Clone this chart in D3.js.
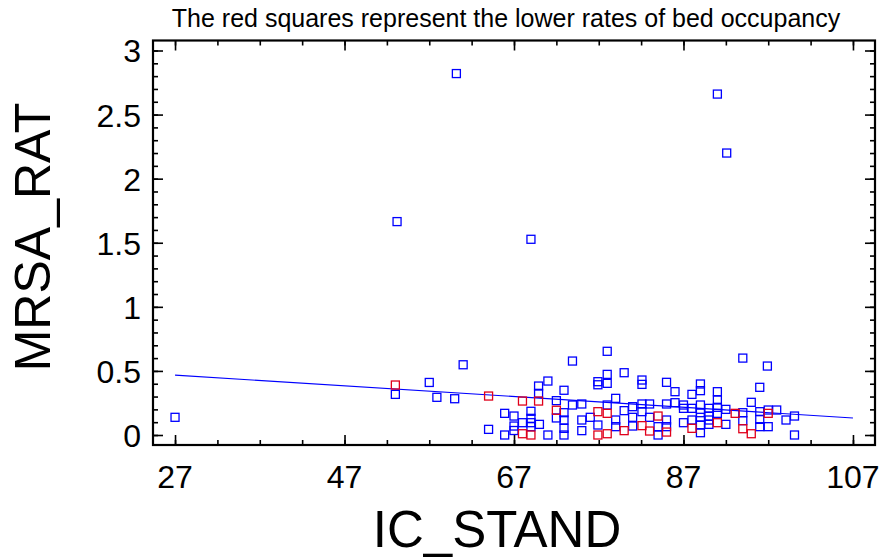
<!DOCTYPE html>
<html lang="en">
<head>
<meta charset="utf-8">
<title>MRSA_RAT vs IC_STAND</title>
<script src="https://d3js.org/d3.v7.min.js"></script>
<style>
  body { margin: 0; background: #fff; }
  svg text { font-family: "Liberation Sans", Arial, sans-serif; fill: #000; }
</style>
</head>
<body>
<svg id="chart" width="882" height="558"></svg>
<script>
// values
var blueX = [60.2, 91.0, 92.1, 53.2, 69.0, 27.0,
  53.0, 57.0, 57.9, 60.0, 61.0,
  73.9, 71.0, 69.9, 69.9, 72.9, 72.0, 72.0, 73.9, 65.9, 67.0, 64.0, 65.9, 67.0, 67.0, 68.0,
  69.0, 69.0, 69.0, 69.0, 70.0, 71.0, 72.9, 72.9, 72.9, 72.9,
  78.0, 78.0, 76.9, 76.9, 78.0, 80.0, 82.1, 82.1, 85.0, 86.0, 75.0, 75.0, 75.0, 76.0, 76.9,
  78.0, 79.0, 79.0, 79.0, 80.0, 81.0, 81.0, 81.0, 82.1, 82.1, 83.0, 83.0, 84.0, 84.0, 85.0, 85.0, 85.0,
  94.0, 96.9, 88.0, 89.0, 89.0, 91.0, 91.0, 96.0, 95.0, 86.0, 87.0, 87.0, 88.0, 89.0, 89.0,
  90.0, 90.0, 91.0, 91.0, 92.0, 94.0, 94.0, 96.0, 96.0, 96.0, 87.0, 88.0, 89.0, 89.0, 89.0,
  90.0, 90.0, 92.0,
  97.0, 98.0, 97.0, 99.1, 100.1, 100.1];
var blueY = [2.82, 2.66, 2.20, 1.665, 1.527, 0.138,
  0.317, 0.41, 0.294, 0.283, 0.548,
  0.577, 0.421, 0.382, 0.325, 0.349, 0.268, 0.133, 0.234, 0.169, 0.148, 0.044, 0.0, 0.07, 0.035, 0.096,
  0.185, 0.13, 0.096, 0.065, 0.083, 0.0, 0.174, 0.117, 0.052, 0.0,
  0.653, 0.473, 0.416, 0.392, 0.403, 0.486, 0.429, 0.395, 0.411, 0.338, 0.242, 0.117, 0.034, 0.138, 0.078,
  0.234, 0.286, 0.117, 0.065, 0.19, 0.221, 0.138, 0.07, 0.242, 0.182, 0.242, 0.138, 0.065, 0.0, 0.242, 0.117, 0.065,
  0.60, 0.538, 0.317, 0.398, 0.346, 0.338, 0.273, 0.372, 0.255, 0.252, 0.234, 0.208, 0.208, 0.234, 0.174,
  0.208, 0.148, 0.216, 0.169, 0.2, 0.174, 0.112, 0.182, 0.122, 0.065, 0.096, 0.117, 0.138, 0.078, 0.018,
  0.117, 0.083, 0.083,
  0.195, 0.195, 0.065, 0.117, 0.148, 0.0];

var redX = [53.0, 64.0, 68.0, 69.9, 72.0, 68.0, 69.0, 76.9, 76.9, 78.0, 78.0,
  80.0, 82.1, 83.0, 84.0, 85.0, 88.0, 91.0, 93.1, 94.0, 95.0, 97.0];
var redY = [0.39, 0.304, 0.265, 0.265, 0.193, 0.01, 0.0, 0.182, 0.0, 0.169, 0.01,
  0.034, 0.073, 0.031, 0.148, 0.023, 0.052, 0.096, 0.169, 0.049, 0.01, 0.169];

var fitX = [27, 107];
var fitY = [0.467, 0.133];

var xTicks = [27, 47, 67, 87, 107];
var yTicks = [0, 0.5, 1, 1.5, 2, 2.5, 3];

var titleText = "The red squares represent the lower rates of bed occupancy";

var svg = d3.select("#chart");
var plotL = 153, plotR = 875, plotT = 40.5, plotB = 445;

var x = d3.scaleLinear().domain([24.4, 109.6]).range([plotL, plotR]);
var y = d3.scaleLinear().domain([-0.078, 3.078]).range([plotB, plotT]);

var xMinor = d3.range(27, 108, 5);
var yMinor = d3.range(0, 31).map(function(i) { return i / 10; });

function tickAxis(axis, pos, ticks, size) {
  var g = svg.append("g").attr("transform", pos)
    .call(axis.tickValues(ticks).tickSize(size).tickFormat(""));
  g.select(".domain").remove();
  g.selectAll("line").attr("stroke", "#000").attr("stroke-width", 1.6);
  return g;
}

// inward ticks on all four sides, minor then major
tickAxis(d3.axisBottom(x), "translate(0," + plotB + ")", xMinor, -5);
tickAxis(d3.axisBottom(x), "translate(0," + plotB + ")", xTicks, -10);
tickAxis(d3.axisTop(x), "translate(0," + plotT + ")", xMinor, -5);
tickAxis(d3.axisTop(x), "translate(0," + plotT + ")", xTicks, -10);
tickAxis(d3.axisLeft(y), "translate(" + plotL + ",0)", yMinor, -5);
tickAxis(d3.axisLeft(y), "translate(" + plotL + ",0)", yTicks, -10);
tickAxis(d3.axisRight(y), "translate(" + plotR + ",0)", yMinor, -5);
tickAxis(d3.axisRight(y), "translate(" + plotR + ",0)", yTicks, -10);

svg.append("rect")
  .attr("x", plotL).attr("y", plotT)
  .attr("width", plotR - plotL).attr("height", plotB - plotT)
  .attr("fill", "none").attr("stroke", "#000").attr("stroke-width", 2.2);

// tick labels
svg.selectAll(".xl").data(xTicks).enter().append("text")
  .attr("x", function(d) { return x(d); })
  .attr("y", 488)
  .attr("text-anchor", "middle")
  .style("font-size", "32px")
  .text(function(d) { return d; });

svg.selectAll(".yl").data(yTicks).enter().append("text")
  .attr("x", 141)
  .attr("y", function(d) { return y(d) + 12; })
  .attr("text-anchor", "end")
  .style("font-size", "32px")
  .text(function(d) { return d; });

// points
function squares(xs, ys, color) {
  svg.append("g").selectAll("rect").data(xs).enter().append("rect")
    .attr("x", function(d) { return x(d) - 4; })
    .attr("y", function(d, i) { return y(ys[i]) - 4; })
    .attr("width", 8).attr("height", 8)
    .attr("fill", "none")
    .attr("stroke", color)
    .attr("stroke-width", 1.3);
}
squares(blueX, blueY, "#0000ff");

svg.append("path")
  .datum(fitX)
  .attr("d", d3.line().x(function(d) { return x(d); }).y(function(d, i) { return y(fitY[i]); }))
  .attr("fill", "none").attr("stroke", "#0000ff").attr("stroke-width", 1.1);

squares(redX, redY, "#e0001b");

// titles
svg.append("text")
  .attr("x", 506).attr("y", 27)
  .attr("text-anchor", "middle")
  .style("font-size", "25px")
  .text(titleText);

svg.append("text")
  .attr("x", 497).attr("y", 547)
  .attr("text-anchor", "middle")
  .style("font-size", "51px")
  .text("IC_STAND");

svg.append("text")
  .attr("transform", "translate(50,237) rotate(-90)")
  .attr("text-anchor", "middle")
  .style("font-size", "50px")
  .text("MRSA_RAT");
</script>
</body>
</html>
